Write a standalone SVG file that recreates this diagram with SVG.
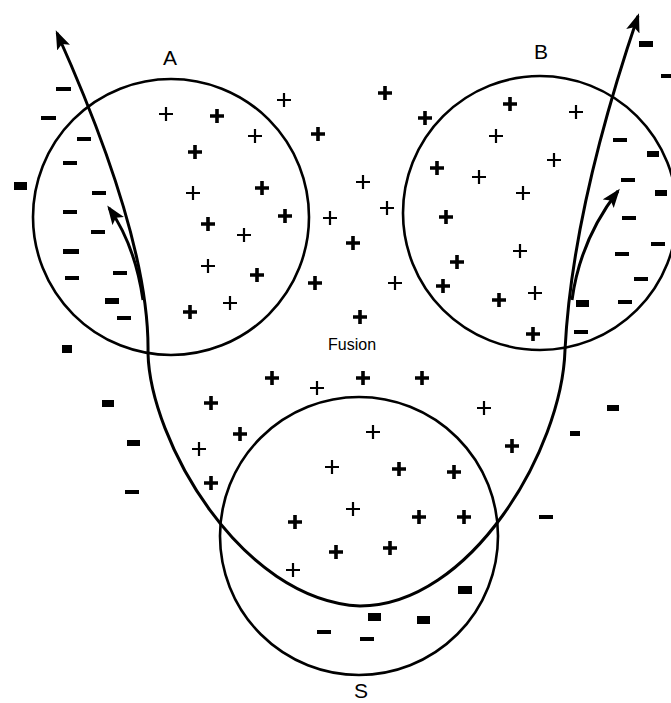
<svg xmlns="http://www.w3.org/2000/svg" xmlns:xlink="http://www.w3.org/1999/xlink" width="671" height="703" viewBox="0 0 671 703">
<style>
.c{fill:none;stroke:#000;stroke-width:2.6}
.ln{fill:none;stroke:#000;stroke-width:3}
.lbl{font-family:"Liberation Sans",Arial,sans-serif;font-size:21px;fill:#000}
.fus{font-family:"Liberation Sans",Arial,sans-serif;font-size:16px;fill:#000}
.p{stroke:#000;stroke-width:3.6;fill:none}
.t{stroke:#000;stroke-width:2.2;fill:none}
.m{fill:#000}
</style>
<defs>
<path id="pl" d="M-7,0H7M0,-7V7"/>
<marker id="ah" markerUnits="userSpaceOnUse" markerWidth="22" markerHeight="16" refX="16" refY="7" orient="auto-start-reverse" viewBox="0 0 22 16">
<path d="M0,0 L19,7 L0,14 L4,7 z" fill="#000"/>
</marker>
</defs>
<rect width="671" height="703" fill="#fff"/>
<g id="A">
<circle class="c" cx="171" cy="217" r="138"/>
<text class="lbl" x="170" y="65" text-anchor="middle">A</text>
</g>
<g id="B">
<circle class="c" cx="540" cy="213" r="137"/>
<text class="lbl" x="541" y="59" text-anchor="middle">B</text>
</g>
<g id="S">
<circle class="c" cx="359" cy="536" r="139"/>
<text class="lbl" x="361" y="698" text-anchor="middle">S</text>
</g>
<g id="fusion">
<text class="fus" x="328" y="350">Fusion</text>
</g>
<g id="connectors">
<path class="ln" marker-start="url(#ah)" marker-end="url(#ah)" d="M57,33 Q150,240 148,353 C150,440 240,600 360,606 C470,606 562,450 565,350 Q572,210 638,16"/>
<path class="ln" marker-end="url(#ah)" d="M143,300 Q135,245 109,208"/>
<path class="ln" marker-end="url(#ah)" d="M572,300 Q580,240 618,191"/>
</g>
<g id="plus">
<use class="t" href="#pl" x="166" y="114"/>
<use class="p" href="#pl" x="217" y="116"/>
<use class="t" href="#pl" x="255" y="136"/>
<use class="p" href="#pl" x="195" y="152"/>
<use class="t" href="#pl" x="193" y="193"/>
<use class="p" href="#pl" x="262" y="188"/>
<use class="p" href="#pl" x="285" y="216"/>
<use class="p" href="#pl" x="208" y="224"/>
<use class="t" href="#pl" x="244" y="235"/>
<use class="t" href="#pl" x="208" y="266"/>
<use class="p" href="#pl" x="257" y="275"/>
<use class="t" href="#pl" x="230" y="303"/>
<use class="p" href="#pl" x="190" y="312"/>
<use class="t" href="#pl" x="284" y="100"/>
<use class="p" href="#pl" x="318" y="134"/>
<use class="p" href="#pl" x="385" y="93"/>
<use class="p" href="#pl" x="425" y="118"/>
<use class="t" href="#pl" x="363" y="182"/>
<use class="t" href="#pl" x="330" y="218"/>
<use class="t" href="#pl" x="387" y="208"/>
<use class="p" href="#pl" x="353" y="243"/>
<use class="p" href="#pl" x="315" y="283"/>
<use class="t" href="#pl" x="395" y="283"/>
<use class="p" href="#pl" x="360" y="317"/>
<use class="p" href="#pl" x="510" y="104"/>
<use class="t" href="#pl" x="576" y="112"/>
<use class="t" href="#pl" x="496" y="136"/>
<use class="t" href="#pl" x="554" y="160"/>
<use class="p" href="#pl" x="437" y="168"/>
<use class="t" href="#pl" x="479" y="177"/>
<use class="t" href="#pl" x="523" y="193"/>
<use class="p" href="#pl" x="446" y="217"/>
<use class="t" href="#pl" x="520" y="251"/>
<use class="p" href="#pl" x="457" y="262"/>
<use class="p" href="#pl" x="443" y="286"/>
<use class="p" href="#pl" x="499" y="300"/>
<use class="t" href="#pl" x="535" y="293"/>
<use class="p" href="#pl" x="533" y="334"/>
<use class="p" href="#pl" x="272" y="378"/>
<use class="t" href="#pl" x="317" y="388"/>
<use class="p" href="#pl" x="363" y="378"/>
<use class="p" href="#pl" x="422" y="378"/>
<use class="p" href="#pl" x="211" y="403"/>
<use class="t" href="#pl" x="484" y="408"/>
<use class="p" href="#pl" x="240" y="434"/>
<use class="t" href="#pl" x="373" y="432"/>
<use class="t" href="#pl" x="199" y="449"/>
<use class="p" href="#pl" x="512" y="446"/>
<use class="t" href="#pl" x="332" y="467"/>
<use class="p" href="#pl" x="399" y="469"/>
<use class="p" href="#pl" x="454" y="472"/>
<use class="p" href="#pl" x="211" y="483"/>
<use class="t" href="#pl" x="353" y="509"/>
<use class="p" href="#pl" x="295" y="522"/>
<use class="p" href="#pl" x="419" y="517"/>
<use class="p" href="#pl" x="464" y="517"/>
<use class="p" href="#pl" x="336" y="552"/>
<use class="p" href="#pl" x="390" y="548"/>
<use class="t" href="#pl" x="293" y="570"/>
</g>
<g id="minus" class="m">
<rect x="56" y="87" width="15" height="4"/>
<rect x="41" y="116" width="15" height="4"/>
<rect x="77" y="137" width="14" height="4"/>
<rect x="63" y="161" width="14" height="4"/>
<rect x="14" y="182" width="13" height="8"/>
<rect x="92" y="191" width="14" height="4"/>
<rect x="63" y="210" width="14" height="4"/>
<rect x="91" y="230" width="14" height="4"/>
<rect x="63" y="249" width="16" height="5"/>
<rect x="65" y="276" width="14" height="4"/>
<rect x="113" y="271" width="14" height="4"/>
<rect x="105" y="298" width="14" height="6"/>
<rect x="117" y="316" width="14" height="4"/>
<rect x="62" y="345" width="10" height="8"/>
<rect x="102" y="400" width="12" height="7"/>
<rect x="127" y="440" width="13" height="6"/>
<rect x="125" y="490" width="14" height="4"/>
<rect x="639" y="41" width="14" height="6"/>
<rect x="661" y="74" width="14" height="4"/>
<rect x="613" y="138" width="14" height="4"/>
<rect x="647" y="151" width="12" height="6"/>
<rect x="621" y="178" width="14" height="4"/>
<rect x="655" y="190" width="12" height="6"/>
<rect x="622" y="216" width="14" height="4"/>
<rect x="651" y="242" width="14" height="4"/>
<rect x="615" y="252" width="14" height="4"/>
<rect x="634" y="277" width="14" height="4"/>
<rect x="576" y="300" width="13" height="7"/>
<rect x="618" y="300" width="14" height="4"/>
<rect x="574" y="330" width="14" height="4"/>
<rect x="607" y="405" width="12" height="6"/>
<rect x="570" y="431" width="10" height="5"/>
<rect x="539" y="515" width="14" height="4"/>
<rect x="458" y="586" width="14" height="8"/>
<rect x="368" y="613" width="13" height="8"/>
<rect x="417" y="616" width="13" height="8"/>
<rect x="317" y="630" width="14" height="4"/>
<rect x="360" y="637" width="14" height="4"/>
</g>
</svg>
